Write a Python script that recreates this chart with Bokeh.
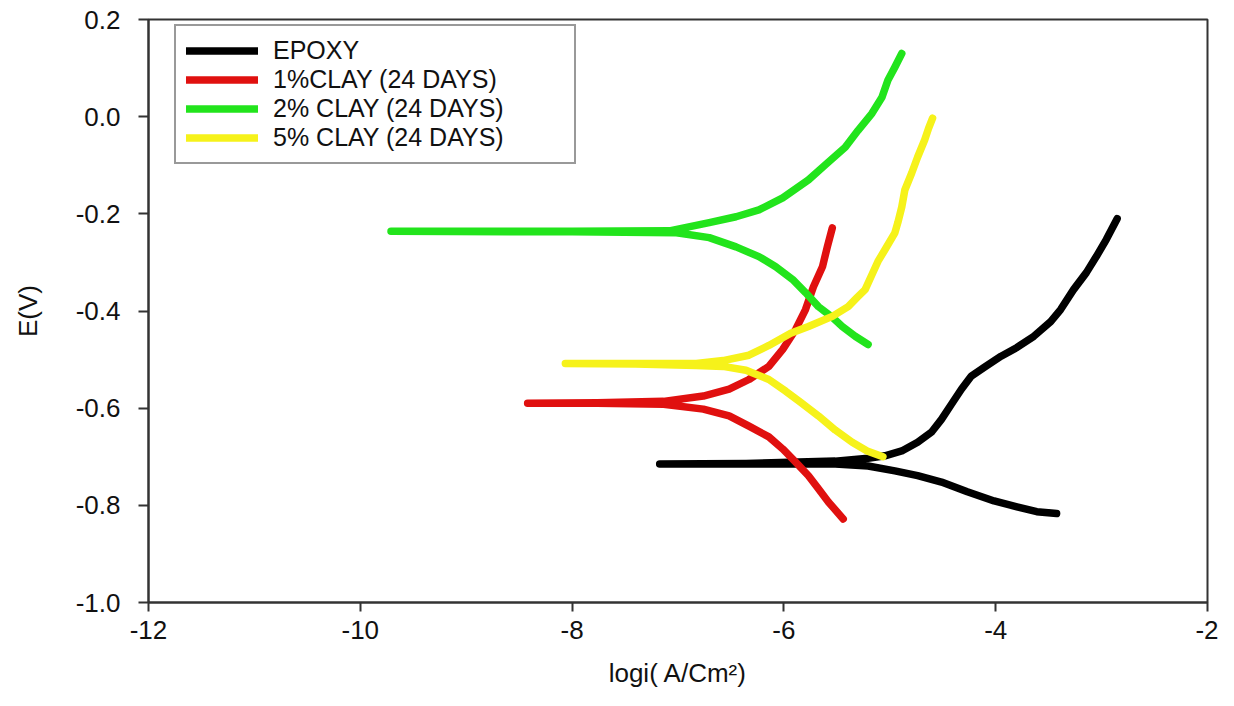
from bokeh.plotting import figure
from bokeh.models import Range1d, FixedTicker, Legend, LegendItem
from bokeh.embed import file_html
from bokeh.resources import INLINE

# ---------------- data ----------------
series_names = ["EPOXY", "1%CLAY (24 DAYS)", "2% CLAY (24 DAYS)", "5% CLAY (24 DAYS)"]
series_colors = ["#000000", "#e0100f", "#22e41c", "#f6f21a"]

# each curve: cathodic end -> corrosion tip -> anodic end
epoxy_logi = [-3.425, -3.612, -3.799, -4.015, -4.268, -4.512, -4.737, -4.952, -5.205, -5.515,
              -6.358, -7.173,
              -6.358, -5.515, -5.205, -5.046, -4.887, -4.737, -4.605, -4.512, -4.418,
              -4.324, -4.230, -4.109, -3.949, -3.799, -3.640, -3.481, -3.387, -3.265,
              -3.144, -3.050, -2.956, -2.853]
epoxy_E = [-0.817, -0.813, -0.803, -0.791, -0.772, -0.752, -0.739, -0.729, -0.719, -0.715,
           -0.715, -0.715,
           -0.714, -0.709, -0.703, -0.698, -0.688, -0.670, -0.649, -0.623, -0.592,
           -0.561, -0.534, -0.516, -0.493, -0.475, -0.452, -0.422, -0.397, -0.356,
           -0.321, -0.288, -0.253, -0.210]

clay1_logi = [-5.440, -5.580, -5.674, -5.768, -5.889, -6.011, -6.142, -6.330, -6.517, -6.761,
              -7.136, -7.764, -8.420,
              -7.764, -7.136, -6.761, -6.517, -6.330, -6.142, -6.011, -5.889, -5.796,
              -5.721, -5.636, -5.590, -5.543]
clay1_E = [-0.828, -0.793, -0.766, -0.739, -0.711, -0.684, -0.659, -0.637, -0.616, -0.602,
           -0.592, -0.590, -0.590,
           -0.589, -0.586, -0.575, -0.561, -0.541, -0.514, -0.479, -0.438, -0.397,
           -0.350, -0.309, -0.268, -0.229]

clay2_logi = [-5.205, -5.327, -5.449, -5.543, -5.674, -5.796, -5.918, -6.077, -6.236, -6.452,
              -6.705, -7.014, -8.000, -9.710,
              -8.000, -7.080, -6.705, -6.452, -6.236, -6.011, -5.768, -5.608, -5.421,
              -5.299, -5.168, -5.074, -5.018, -4.952, -4.887]
clay2_E = [-0.469, -0.452, -0.432, -0.413, -0.391, -0.362, -0.335, -0.309, -0.288, -0.268,
           -0.249, -0.239, -0.237, -0.236,
           -0.236, -0.235, -0.218, -0.206, -0.192, -0.167, -0.130, -0.099, -0.063,
           -0.028, 0.007, 0.040, 0.075, 0.102, 0.130]

clay5_logi = [-5.065, -5.214, -5.355, -5.515, -5.674, -5.843, -5.983, -6.142, -6.358, -6.574,
              -6.827, -7.400, -8.064,
              -7.400, -6.827, -6.574, -6.330, -6.142, -5.936, -5.768, -5.543, -5.393,
              -5.308, -5.233, -5.168, -5.112, -5.046, -4.952, -4.924, -4.887, -4.858,
              -4.793, -4.737, -4.671, -4.634, -4.596]
clay5_E = [-0.700, -0.688, -0.670, -0.645, -0.616, -0.588, -0.565, -0.541, -0.522, -0.514,
           -0.512, -0.509, -0.508,
           -0.508, -0.508, -0.502, -0.491, -0.471, -0.446, -0.432, -0.411, -0.391,
           -0.372, -0.356, -0.325, -0.298, -0.274, -0.239, -0.218, -0.186, -0.151,
           -0.116, -0.083, -0.048, -0.024, -0.003]

x_ticks = [-12, -10, -8, -6, -4, -2]
x_tick_labels = ["-12", "-10", "-8", "-6", "-4", "-2"]
y_ticks = [-1.0, -0.8, -0.6, -0.4, -0.2, 0.0, 0.2]
y_tick_labels = ["-1.0", "-0.8", "-0.6", "-0.4", "-0.2", "0.0", "0.2"]

x_label = "logi( A/Cm\u00b2)"
y_label = "E(V)"

FONT = "Liberation Sans"

# ---------------- figure ----------------
p = figure(width=1218, height=690,
           x_range=Range1d(-12, -2), y_range=Range1d(-1.0, 0.2),
           output_backend="svg", toolbar_location=None,
           min_border_left=148, min_border_right=11,
           min_border_top=19, min_border_bottom=86)

p.xgrid.visible = False
p.ygrid.visible = False
p.outline_line_color = "#333333"
p.outline_line_width = 2
p.outline_line_alpha = 1.0
p.background_fill_color = "white"
p.border_fill_color = "white"

all_x = [epoxy_logi, clay1_logi, clay2_logi, clay5_logi]
all_y = [epoxy_E, clay1_E, clay2_E, clay5_E]

renderers = []
for xs, ys, c in zip(all_x, all_y, series_colors):
    r = p.line(xs, ys, line_color=c, line_width=7.5,
               line_cap="round", line_join="round")
    renderers.append(r)

# axes
for ax in (p.xaxis[0], p.yaxis[0]):
    ax.axis_line_color = "#333333"
    ax.axis_line_width = 2
    ax.major_tick_line_color = "#333333"
    ax.major_tick_line_width = 2
    ax.major_tick_in = 0
    ax.minor_tick_line_color = None
    ax.major_label_text_font = FONT
    ax.major_label_text_font_size = "26px"
    ax.major_label_text_color = "#111111"
    ax.axis_label_text_font = FONT
    ax.axis_label_text_font_size = "26px"
    ax.axis_label_text_font_style = "normal"
    ax.axis_label_text_color = "#111111"

p.xaxis.ticker = FixedTicker(ticks=x_ticks)
p.yaxis.ticker = FixedTicker(ticks=y_ticks)
p.xaxis.major_label_overrides = {v: s for v, s in zip(x_ticks, x_tick_labels)}
p.yaxis.major_label_overrides = {v: s for v, s in zip(y_ticks, y_tick_labels)}
p.xaxis.major_tick_out = 9
p.yaxis.major_tick_out = 10
p.xaxis.major_label_standoff = 9
p.yaxis.major_label_standoff = 18
p.xaxis.axis_label = x_label
p.yaxis.axis_label = y_label
p.xaxis.axis_label_standoff = 16
p.yaxis.axis_label_standoff = 30

# legend
items = [LegendItem(label=n, renderers=[r]) for n, r in zip(series_names, renderers)]
legend = Legend(items=items, location=(26, 438))
legend.label_text_font = FONT
legend.label_text_font_size = "25px"
legend.label_text_color = "#111111"
legend.glyph_width = 72
legend.glyph_height = 29
legend.label_height = 29
legend.label_width = 291
legend.label_standoff = 15
legend.spacing = 0
legend.padding = 10
legend.margin = 0
legend.border_line_color = "#333333"
legend.border_line_width = 2
legend.background_fill_alpha = 1.0
p.add_layout(legend, "center")

open("out.html", "w").write(file_html(p, INLINE))
